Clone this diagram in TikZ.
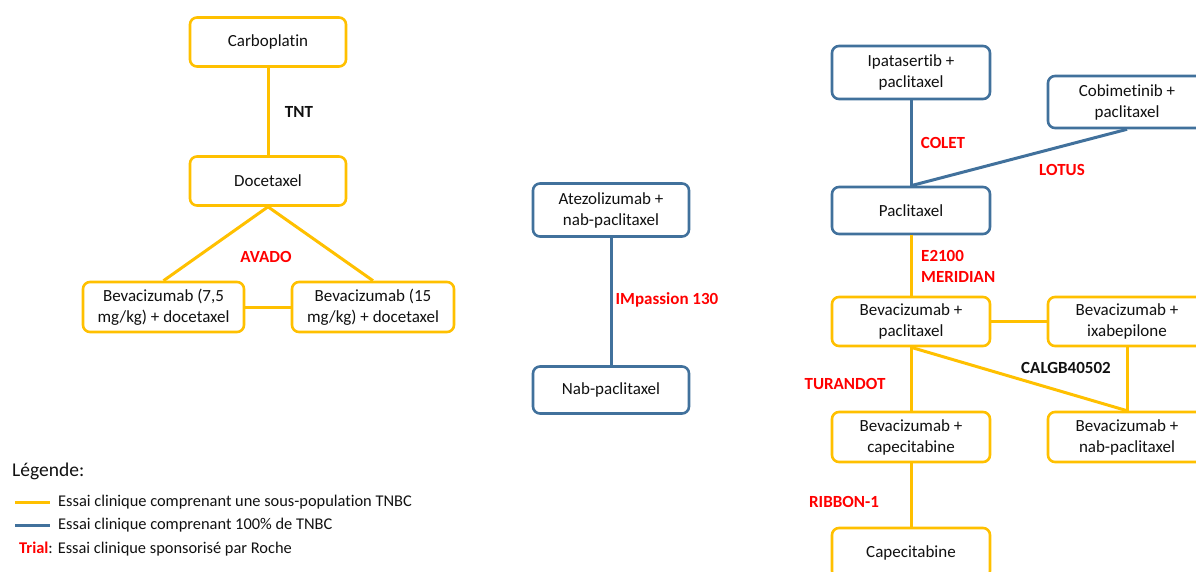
\documentclass[tikz,border=0pt]{standalone}
\usepackage{fontspec}
\setmainfont{Carlito}[Ligatures=NoCommon]
\definecolor{yel}{HTML}{FFC000}
\definecolor{blu}{HTML}{41719C}
\definecolor{txt}{HTML}{111111}
\definecolor{red1}{HTML}{FF0000}
\begin{document}
\begin{tikzpicture}[x=1pt,y=-1pt,
  box/.style={draw, rounded corners=7pt, line width=2.6pt, fill=white, minimum width=156pt, minimum height=49pt, align=center, inner sep=0pt, text=txt, font=\fontsize{17}{21}\selectfont},
  ybox/.style={box, draw=yel},
  bbox/.style={box, draw=blu},
  yl/.style={draw=yel, line width=3pt},
  bl/.style={draw=blu, line width=3pt},
  trial/.style={font=\bfseries\fontsize{17}{20}\selectfont, text=red1, inner sep=0pt},
  ktrial/.style={font=\bfseries\fontsize{17}{20}\selectfont, text=txt, inner sep=0pt},
  leg/.style={font=\fontsize{16.4}{19}\selectfont, text=txt, inner sep=0pt, anchor=west}
]
\useasboundingbox (0,0) rectangle (1196,572);
\clip (0,0) rectangle (1196,572);
% left group
\node[ybox] (carbo) at (268,42) {Carboplatin};
\node[ybox] (doce) at (268,181) {Docetaxel};
\node[ybox, minimum width=161pt, minimum height=50pt] (b75) at (163.5,307) {Bevacizumab (7,5\\mg/kg) + docetaxel};
\node[ybox, minimum width=162pt, minimum height=50pt] (b15) at (373,307) {Bevacizumab (15\\mg/kg) + docetaxel};
\draw[yl] (carbo) -- (doce);
\draw[yl] (doce.south) -- (b75.north);
\draw[yl] (doce.south) -- (b15.north);
\draw[yl] (b75) -- (b15);
\node[ktrial] (tnt) at (299,112) {TNT};
\node[trial] (avado) at (266,257) {AVADO};
% middle
\node[bbox, minimum height=53pt] (atezo) at (611,210) {Atezolizumab +\\nab-paclitaxel};
\node[bbox, minimum height=47pt] (nab) at (611,390) {Nab-paclitaxel};
\draw[bl] (atezo) -- (nab);
\node[trial] (imp) at (667,300) {IMpassion 130};
% right group
\node[bbox, minimum width=158pt, minimum height=53pt] (ipa) at (911,72.5) {Ipatasertib +\\paclitaxel};
\node[bbox, minimum width=158pt, minimum height=52pt] (cobi) at (1127,102) {Cobimetinib +\\paclitaxel};
\node[bbox, minimum width=158pt, minimum height=47pt] (pac) at (911,210.5) {Paclitaxel};
\draw[bl] (ipa) -- (pac);
\draw[bl] (pac.north) -- (cobi.south);
\node[trial] (colet) at (943,143) {COLET};
\node[trial] (lotus) at (1062,170) {LOTUS};
\node[ybox, minimum width=158pt, minimum height=49pt] (bp) at (911,321.5) {Bevacizumab +\\paclitaxel};
\node[ybox, minimum width=158pt, minimum height=49pt] (bix) at (1127,321.5) {Bevacizumab +\\ixabepilone};
\node[ybox, minimum width=158pt, minimum height=50pt] (bcap) at (911,437) {Bevacizumab +\\capecitabine};
\node[ybox, minimum width=158pt, minimum height=50pt] (bnab) at (1127,437) {Bevacizumab +\\nab-paclitaxel};
\node[ybox, minimum width=158pt, minimum height=50pt] (cap) at (911,553) {Capecitabine};
\draw[yl] (pac) -- (bp);
\draw[yl] (bp) -- (bix);
\draw[yl] (bp.south) -- (bnab.north);
\draw[yl] (bix) -- (bnab);
\draw[yl] (bp) -- (bcap);
\draw[yl] (bcap) -- (cap);
\node[trial, anchor=west] (e2100) at (921,256) {E2100};
\node[trial, anchor=west] (meridian) at (921,277) {MERIDIAN};
\node[ktrial] (calgb) at (1066,368) {CALGB40502};
\node[trial] (turandot) at (845,384) {TURANDOT};
\node[trial] (ribbon) at (844,502) {RIBBON-1};
% legend
\node[font=\fontsize{19.5}{22}\selectfont, text=txt, inner sep=0pt, anchor=west] (legt) at (12,471) {Légende:};
\coordinate (ya) at (15,502); \coordinate (yb) at (50,502);
\coordinate (ba) at (15,525); \coordinate (bb) at (50,525);
\draw[yl] (ya) -- (yb);
\draw[bl] (ba) -- (bb);
\node[leg] (l1) at (58,502) {Essai clinique comprenant une sous-population TNBC};
\node[leg] (l2) at (58,525) {Essai clinique comprenant 100\% de TNBC};
\node[leg] (l3) at (19,549) {\textcolor{red1}{\bfseries Trial}: Essai clinique sponsorisé par Roche};
\end{tikzpicture}
\end{document}
